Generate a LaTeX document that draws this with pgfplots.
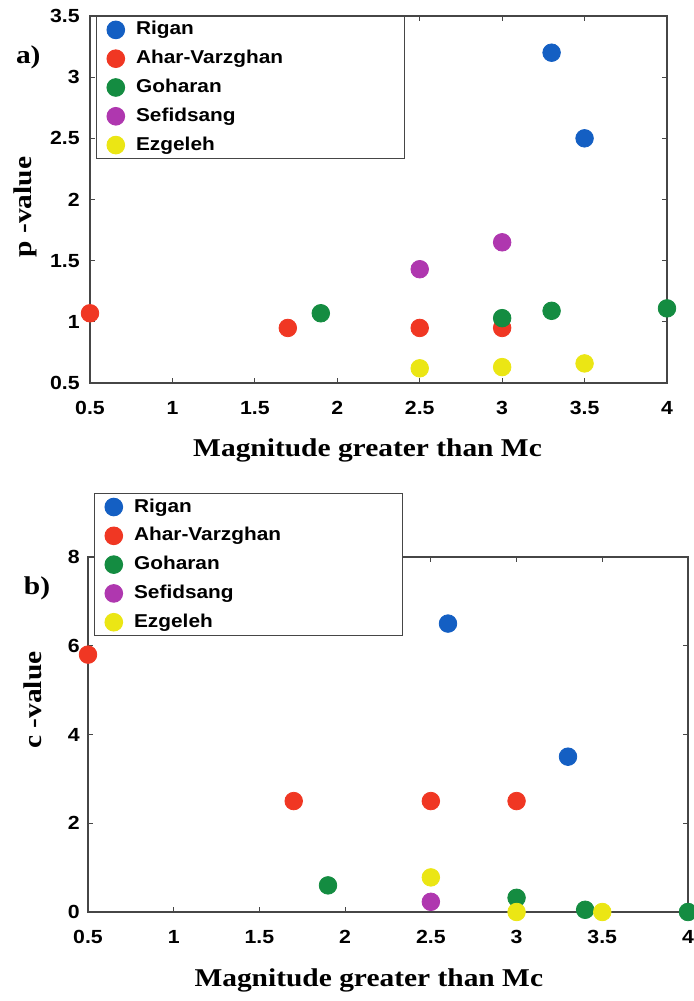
\documentclass[border=0pt]{standalone}
\usepackage{pgfplots}
\pgfplotsset{compat=1.18}
\usepackage{fontspec}
\setmainfont[FakeStretch=1.15]{Liberation Serif}
\newfontfamily\arialfont[FakeStretch=1.12]{Liberation Sans}
\definecolor{cRig}{RGB}{20,95,195}
\definecolor{cAha}{RGB}{240,55,35}
\definecolor{cGoh}{RGB}{20,140,65}
\definecolor{cSef}{RGB}{175,55,175}
\definecolor{cEzg}{RGB}{235,230,20}
\definecolor{axgray}{RGB}{70,70,70}
\newcommand{\lab}[1]{\makebox[129pt][l]{#1}}
\pgfplotsset{
  myaxis/.style={
    scale only axis,
    clip=false,
    axis line style={axgray, line width=0.6pt},
    tick style={axgray, line width=0.5pt, major tick length=2.5pt},
    tick align=inside,
    tick pos=both,
    xmin=0.5, xmax=4,
    xtick={0.5,1,1.5,2,2.5,3,3.5,4},
    /pgf/number format/assume math mode=true,
    ticklabel style={font=\fontsize{9.5}{11}\arialfont\bfseries},
    xticklabel style={anchor=north, inner sep=0pt, yshift=-9pt},
    label style={font=\fontsize{12.8}{15}\selectfont\bfseries},
    legend cell align=left,
    legend image code/.code={\draw[##1] plot coordinates {(0pt,0pt)};},
    legend style={draw=axgray, line width=0.5pt, inner xsep=5.25pt, inner ysep=2.2pt,
      font=\fontsize{9.3}{11}\arialfont\bfseries,
      nodes={inner sep=0pt, text height=7pt, text depth=2pt},
      column sep=5.75pt, row sep=5.4pt},
  },
  mk/.style={only marks, mark=*, mark size=4.4pt, mark options={draw=none, fill=#1}, color=#1},
}
\begin{document}
\begin{tikzpicture}
% top panel
\begin{axis}[myaxis,
  at={(45pt,309pt)}, anchor=south west,
  width=288.5pt, height=183.5pt,
  ymin=0.5, ymax=3.5,
  ytick={0.5,1,1.5,2,2.5,3,3.5},
  yticklabel style={anchor=east, inner sep=0pt, xshift=-5pt},
  xlabel={Magnitude greater than Mc},
  xlabel style={at={(rel axis cs:0.481,-0.1826)}, anchor=center},
  ylabel={p -value},
  ylabel style={at={(rel axis cs:-0.1127,0.4796)}, anchor=center, rotate=0},
  legend style={at={(rel axis cs:0.0104,1)}, anchor=north west},
]
\addplot[mk=cRig] coordinates {(3.3,3.2) (3.5,2.5)};
\addlegendentry{\lab{Rigan}}
\addplot[mk=cAha] coordinates {(0.5,1.07) (1.7,0.95) (2.5,0.95) (3,0.95)};
\addlegendentry{\lab{Ahar-Varzghan}}
\addplot[mk=cGoh] coordinates {(1.9,1.07) (3,1.03) (3.3,1.09) (4,1.11)};
\addlegendentry{\lab{Goharan}}
\addplot[mk=cSef] coordinates {(2.5,1.43) (3,1.65)};
\addlegendentry{\lab{Sefidsang}}
\addplot[mk=cEzg] coordinates {(2.5,0.62) (3,0.63) (3.5,0.66)};
\addlegendentry{\lab{Ezgeleh}}
\node[font=\fontsize{12.8}{15}\selectfont\bfseries] at (rel axis cs:-0.107,0.886) {a)};
\end{axis}
% bottom panel
\begin{axis}[myaxis,
  at={(44pt,44.5pt)}, anchor=south west,
  width=300pt, height=177.5pt,
  ymin=0, ymax=8,
  ytick={0,2,4,6,8},
  yticklabel style={anchor=east, inner sep=0pt, xshift=-4pt},
  xlabel={Magnitude greater than Mc},
  xlabel style={at={(rel axis cs:0.468,-0.1915)}, anchor=center},
  ylabel={c -value},
  ylabel style={at={(rel axis cs:-0.0917,0.597)}, anchor=center, rotate=0},
  legend style={at={(rel axis cs:0.01,1.180)}, anchor=north west},
]
\addplot[mk=cRig] coordinates {(2.6,6.5) (3.3,3.5)};
\addlegendentry{\lab{Rigan}}
\addplot[mk=cAha] coordinates {(0.5,5.8) (1.7,2.5) (2.5,2.5) (3,2.5)};
\addlegendentry{\lab{Ahar-Varzghan}}
\addplot[mk=cGoh] coordinates {(1.9,0.6) (3,0.32) (3.4,0.05) (4,0)};
\addlegendentry{\lab{Goharan}}
\addplot[mk=cSef] coordinates {(2.5,0.23)};
\addlegendentry{\lab{Sefidsang}}
\addplot[mk=cEzg] coordinates {(2.5,0.78) (3,0) (3.5,0)};
\addlegendentry{\lab{Ezgeleh}}
\node[font=\fontsize{12.8}{15}\selectfont\bfseries] at (rel axis cs:-0.085,0.913) {b)};
\end{axis}
\pgfresetboundingbox
\path (0,0) rectangle (347pt,500.5pt);
\end{tikzpicture}
\end{document}
